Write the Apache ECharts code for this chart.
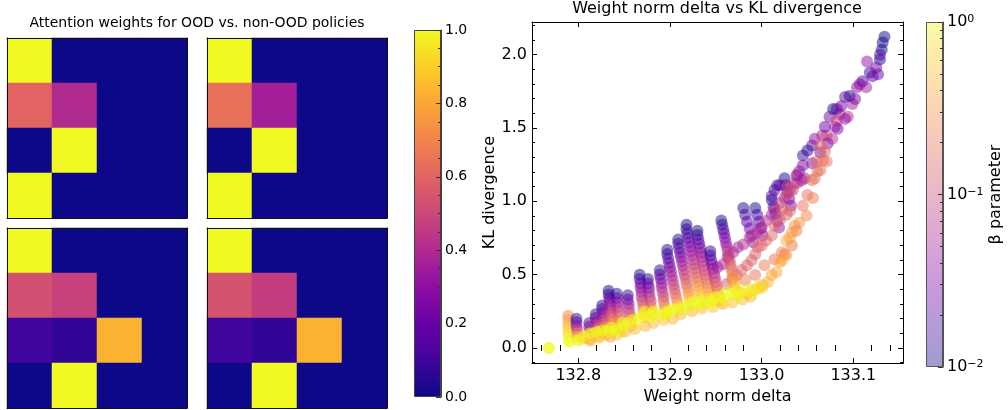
<!DOCTYPE html>
<html>
<head>
<meta charset="utf-8">
<title>attention / kl</title>
<script src="https://cdn.jsdelivr.net/npm/echarts@6/dist/echarts.min.js"></script>
<style>
    html, body { margin: 0; padding: 0; background: #fff; }
    #main { width: 1008px; height: 410px; }
</style>
</head>
<body>
<div id="main"></div>
<script>
'use strict'

// ---- attention weight matrices (rows top -> bottom) ----
var cells = ['0', '1', '2', '3'];
var attnTopLeft = [[1, 0, 0, 0], [0.6, 0.4, 0, 0], [0, 1, 0, 0], [1, 0, 0, 0]];
var attnTopRight = [[1, 0, 0, 0], [0.64, 0.36, 0, 0], [0, 1, 0, 0], [1, 0, 0, 0]];
var attnBottomLeft = [[1, 0, 0, 0], [0.53, 0.48, 0, 0], [0.1, 0.07, 0.83, 0], [0, 1, 0, 0]];
var attnBottomRight = [[1, 0, 0, 0], [0.54, 0.47, 0, 0], [0.1, 0.07, 0.83, 0], [0, 1, 0, 0]];
var attnTicks = [0, 0.2, 0.4, 0.6, 0.8, 1.0];

// ---- scatter: [weight norm delta, KL divergence, beta] ----
var bottomBand = [
    [132.768, 0.0, 1], [132.768, 0.0, 1], [132.790, 0.045, 1], [132.800, 0.05, 1], [132.806, 0.08, 0.9],
    [132.813, 0.10, 1], [132.820, 0.11, 1], [132.826, 0.12, 0.9], [132.834, 0.11, 1], [132.842, 0.12, 1],
    [132.848, 0.17, 1], [132.854, 0.17, 0.9], [132.859, 0.19, 1], [132.867, 0.21, 1], [132.872, 0.25, 0.9],
    [132.878, 0.22, 1], [132.885, 0.24, 1], [132.892, 0.22, 0.9], [132.896, 0.23, 1], [132.903, 0.26, 1],
    [132.910, 0.28, 1], [132.918, 0.29, 0.9], [132.924, 0.31, 1], [132.932, 0.31, 1], [132.939, 0.32, 0.9],
    [132.946, 0.33, 1], [132.950, 0.35, 1], [132.955, 0.35, 0.9], [132.961, 0.38, 1], [132.967, 0.37, 1],
    [132.975, 0.38, 0.9], [132.982, 0.39, 1], [132.989, 0.40, 1], [132.997, 0.42, 0.8], [133.001, 0.41, 0.7],
    [132.836, 0.14, 1], [132.850, 0.15, 1], [132.865, 0.19, 1], [132.880, 0.21, 1], [132.900, 0.25, 1],
    [132.915, 0.27, 1], [132.930, 0.29, 1], [132.945, 0.30, 1], [132.960, 0.33, 1], [132.975, 0.35, 1],
    [132.990, 0.37, 0.9]
];
var belowBand = [
    [132.806, 0.065, 0.5], [132.813, 0.05, 0.45], [132.823, 0.07, 0.5], [132.835, 0.075, 0.4], [132.842, 0.09, 0.55],
    [132.851, 0.11, 0.45], [132.862, 0.13, 0.5], [132.873, 0.15, 0.45], [132.882, 0.17, 0.5], [132.893, 0.19, 0.55],
    [132.903, 0.20, 0.45], [132.912, 0.23, 0.5], [132.924, 0.25, 0.45], [132.935, 0.27, 0.5], [132.947, 0.28, 0.55],
    [132.958, 0.30, 0.45], [132.968, 0.31, 0.5], [132.979, 0.33, 0.5], [132.988, 0.35, 0.45]
];
var sawtoothLeft = [
    [132.789, 0.22, 0.25], [132.789, 0.19, 0.35], [132.789, 0.16, 0.45], [132.789, 0.13, 0.6], [132.789, 0.10, 0.75], [132.790, 0.07, 0.9], [132.790, 0.045, 1],
    [132.798, 0.20, 0.012], [132.798, 0.175, 0.02], [132.798, 0.15, 0.04], [132.799, 0.125, 0.08], [132.799, 0.10, 0.2], [132.799, 0.075, 0.45], [132.800, 0.055, 1],
    [132.812, 0.17, 0.015], [132.812, 0.145, 0.03], [132.813, 0.12, 0.07], [132.813, 0.095, 0.2], [132.813, 0.06, 0.4], [132.815, 0.095, 1],
    [132.819, 0.23, 0.012], [132.819, 0.205, 0.02], [132.820, 0.18, 0.04], [132.820, 0.155, 0.08], [132.821, 0.13, 0.15], [132.821, 0.105, 0.35], [132.822, 0.08, 0.6], [132.823, 0.11, 1],
    [132.826, 0.29, 0.012], [132.826, 0.265, 0.02], [132.827, 0.24, 0.03], [132.827, 0.215, 0.05], [132.828, 0.19, 0.08], [132.828, 0.165, 0.13], [132.829, 0.14, 0.25], [132.830, 0.115, 0.5], [132.830, 0.09, 0.55], [132.831, 0.12, 1],
    [132.833, 0.39, 0.011], [132.833, 0.365, 0.015], [132.834, 0.34, 0.02], [132.834, 0.315, 0.03], [132.835, 0.29, 0.045], [132.835, 0.265, 0.065], [132.836, 0.24, 0.09], [132.836, 0.215, 0.13], [132.837, 0.19, 0.2], [132.838, 0.165, 0.3], [132.838, 0.14, 0.5], [132.839, 0.12, 0.8],
    [132.842, 0.37, 0.012], [132.842, 0.34, 0.02], [132.843, 0.31, 0.035], [132.843, 0.28, 0.055], [132.844, 0.25, 0.09], [132.845, 0.22, 0.15], [132.845, 0.19, 0.25], [132.846, 0.16, 0.4], [132.846, 0.13, 0.7], [132.847, 0.11, 1],
    [132.854, 0.36, 0.013], [132.854, 0.33, 0.02], [132.855, 0.30, 0.035], [132.855, 0.27, 0.06], [132.856, 0.24, 0.1], [132.857, 0.21, 0.17], [132.857, 0.18, 0.3], [132.858, 0.15, 0.55],
    [132.867, 0.50, 0.011], [132.867, 0.47, 0.015], [132.868, 0.44, 0.022], [132.868, 0.41, 0.03], [132.869, 0.38, 0.045], [132.869, 0.35, 0.065], [132.870, 0.32, 0.09], [132.871, 0.29, 0.13], [132.871, 0.26, 0.2], [132.872, 0.23, 0.35], [132.873, 0.21, 0.6], [132.873, 0.24, 1],
    [132.876, 0.47, 0.013], [132.876, 0.44, 0.02], [132.877, 0.41, 0.03], [132.877, 0.38, 0.045], [132.878, 0.35, 0.07], [132.879, 0.32, 0.1], [132.879, 0.29, 0.15], [132.880, 0.26, 0.25], [132.881, 0.23, 0.45], [132.882, 0.25, 1],
    [132.889, 0.53, 0.012], [132.889, 0.50, 0.018], [132.890, 0.47, 0.025], [132.891, 0.44, 0.035], [132.891, 0.41, 0.05], [132.892, 0.38, 0.07], [132.893, 0.35, 0.1], [132.893, 0.32, 0.15], [132.894, 0.29, 0.22], [132.895, 0.26, 0.4], [132.896, 0.235, 0.7], [132.897, 0.25, 1]
];
var sawtoothMid = [
    [132.897, 0.67, 0.011], [132.897, 0.64, 0.014], [132.898, 0.61, 0.018], [132.899, 0.58, 0.023], [132.900, 0.55, 0.03], [132.901, 0.52, 0.04], [132.902, 0.49, 0.05], [132.903, 0.46, 0.065],
    [132.904, 0.43, 0.085], [132.905, 0.40, 0.11], [132.906, 0.37, 0.15], [132.907, 0.34, 0.2], [132.908, 0.31, 0.3], [132.909, 0.28, 0.5], [132.910, 0.26, 1],
    [132.909, 0.74, 0.011], [132.909, 0.71, 0.014], [132.910, 0.68, 0.018], [132.911, 0.65, 0.023], [132.912, 0.62, 0.03], [132.913, 0.59, 0.04], [132.914, 0.56, 0.05], [132.915, 0.53, 0.065],
    [132.916, 0.50, 0.085], [132.917, 0.47, 0.11], [132.918, 0.44, 0.15], [132.919, 0.41, 0.2], [132.920, 0.38, 0.28], [132.921, 0.35, 0.4], [132.922, 0.32, 0.6], [132.923, 0.29, 1],
    [132.918, 0.84, 0.01], [132.918, 0.81, 0.013], [132.919, 0.78, 0.016], [132.920, 0.75, 0.02], [132.921, 0.72, 0.025], [132.922, 0.69, 0.032], [132.923, 0.66, 0.04], [132.924, 0.63, 0.05],
    [132.925, 0.60, 0.065], [132.926, 0.57, 0.08], [132.927, 0.54, 0.1], [132.928, 0.51, 0.13], [132.929, 0.48, 0.17], [132.930, 0.45, 0.22], [132.931, 0.42, 0.3], [132.932, 0.39, 0.4],
    [132.933, 0.36, 0.55], [132.934, 0.33, 0.8], [132.935, 0.30, 1],
    [132.930, 0.80, 0.011], [132.930, 0.77, 0.014], [132.931, 0.74, 0.018], [132.932, 0.71, 0.023], [132.933, 0.68, 0.03], [132.934, 0.65, 0.038], [132.935, 0.62, 0.048], [132.936, 0.59, 0.06],
    [132.937, 0.56, 0.075], [132.938, 0.53, 0.095], [132.939, 0.50, 0.12], [132.940, 0.47, 0.15], [132.941, 0.44, 0.2], [132.942, 0.41, 0.27], [132.943, 0.38, 0.36], [132.944, 0.35, 0.5], [132.945, 0.32, 0.75],
    [132.944, 0.66, 0.012], [132.944, 0.63, 0.016], [132.945, 0.60, 0.022], [132.946, 0.57, 0.03], [132.947, 0.54, 0.04], [132.948, 0.51, 0.055], [132.949, 0.48, 0.075], [132.950, 0.45, 0.1],
    [132.951, 0.42, 0.14], [132.952, 0.39, 0.2], [132.953, 0.36, 0.3], [132.954, 0.33, 0.5], [132.955, 0.31, 0.9],
    [132.956, 0.87, 0.011], [132.957, 0.84, 0.014], [132.958, 0.81, 0.018], [132.959, 0.78, 0.023], [132.960, 0.75, 0.03], [132.961, 0.72, 0.04], [132.962, 0.69, 0.05], [132.963, 0.66, 0.065],
    [132.964, 0.63, 0.08], [132.965, 0.60, 0.1], [132.966, 0.57, 0.13], [132.967, 0.54, 0.17], [132.968, 0.51, 0.22], [132.969, 0.48, 0.3], [132.970, 0.45, 0.4], [132.971, 0.42, 0.55],
    [132.972, 0.39, 0.75], [132.973, 0.36, 1]
];
var rightRows = [
    // streak tops
    [132.980, 0.955, 0.011], [132.982, 0.908, 0.015], [132.984, 0.861, 0.02], [132.987, 0.814, 0.026], [132.989, 0.767, 0.034], [132.991, 0.719, 0.045],
    [132.993, 0.955, 0.011], [132.995, 0.908, 0.015], [132.997, 0.861, 0.02], [132.999, 0.814, 0.027], [133.001, 0.767, 0.036],
    [133.011, 1.009, 0.011], [133.013, 0.962, 0.015], [133.015, 0.915, 0.02], [133.017, 0.868, 0.028], [133.019, 0.821, 0.038],
    [133.025, 1.158, 0.011], [133.026, 1.110, 0.014], [133.028, 1.063, 0.019], [133.030, 1.016, 0.026], [133.032, 0.969, 0.035],
    [133.011, 1.036, 0.02], [133.014, 1.077, 0.018], [133.017, 1.110, 0.015], [133.020, 1.110, 0.02],
    // magenta row
    [132.952, 0.551, 0.05], [132.958, 0.571, 0.055], [132.963, 0.618, 0.05], [132.969, 0.652, 0.06], [132.974, 0.686, 0.055],
    [132.980, 0.706, 0.06], [132.987, 0.753, 0.06], [132.995, 0.787, 0.065], [133.000, 0.821, 0.06], [133.005, 0.868, 0.065],
    [133.011, 0.908, 0.06], [133.014, 0.942, 0.065], [133.020, 0.989, 0.07], [133.025, 1.023, 0.065], [133.031, 1.070, 0.07],
    [133.036, 1.124, 0.065], [133.039, 1.178, 0.07],
    // pink row
    [132.962, 0.436, 0.13], [132.968, 0.470, 0.14], [132.973, 0.497, 0.13], [132.978, 0.531, 0.15], [132.984, 0.564, 0.14],
    [132.989, 0.598, 0.15], [132.993, 0.639, 0.14], [132.996, 0.686, 0.15], [133.000, 0.699, 0.16], [133.005, 0.733, 0.15],
    [133.011, 0.767, 0.16], [133.014, 0.834, 0.15], [133.020, 0.875, 0.16], [133.031, 0.935, 0.17], [133.027, 1.043, 0.12],
    [133.022, 0.942, 0.13], [133.027, 0.908, 0.14], [133.028, 1.104, 0.09], [133.034, 1.077, 0.1], [133.039, 1.124, 0.08],
    [133.044, 1.144, 0.05], [133.038, 1.178, 0.045],
    // salmon row
    [132.982, 0.463, 0.22], [132.993, 0.497, 0.2], [133.003, 0.564, 0.22], [133.014, 0.605, 0.2], [133.022, 0.652, 0.24],
    [133.025, 0.639, 0.2], [133.033, 0.699, 0.2], [133.038, 0.800, 0.22], [133.045, 0.969, 0.2], [133.049, 0.902, 0.25],
    [133.050, 1.043, 0.18], [133.056, 1.023, 0.22], [133.055, 1.144, 0.17], [133.058, 1.158, 0.2], [133.061, 1.205, 0.18],
    [133.064, 1.212, 0.2], [133.060, 1.272, 0.16], [133.067, 1.279, 0.17], [133.071, 1.272, 0.19], [133.069, 1.340, 0.16],
    [133.064, 1.380, 0.15],
    // orange row
    [132.976, 0.382, 0.45], [132.984, 0.369, 0.6], [132.990, 0.396, 0.4], [132.996, 0.403, 0.55], [133.001, 0.430, 0.4],
    [133.007, 0.450, 0.45], [133.011, 0.497, 0.4], [133.016, 0.517, 0.38], [133.020, 0.585, 0.4], [133.027, 0.632, 0.35],
    [133.022, 0.598, 0.38], [133.031, 0.753, 0.35], [133.027, 0.733, 0.38], [133.033, 0.787, 0.35], [133.036, 0.834, 0.32],
    [133.041, 0.854, 0.3]
];
var upperBand = [
    [133.045, 1.313, 0.015], [133.045, 1.245, 0.03], [133.041, 1.205, 0.04], [133.047, 1.158, 0.05], [133.050, 1.347, 0.012],
    [133.055, 1.380, 0.02], [133.058, 1.427, 0.04], [133.066, 1.448, 0.06], [133.071, 1.448, 0.1], [133.069, 1.508, 0.025],
    [133.074, 1.576, 0.03], [133.080, 1.508, 0.05], [133.077, 1.427, 0.07], [133.082, 1.549, 0.09], [133.085, 1.596, 0.07],
    [133.078, 1.630, 0.011], [133.082, 1.630, 0.02], [133.087, 1.650, 0.03], [133.094, 1.576, 0.06], [133.099, 1.664, 0.05],
    [133.091, 1.711, 0.025], [133.096, 1.718, 0.012], [133.104, 1.778, 0.04], [133.107, 1.798, 0.035], [133.110, 1.819, 0.02],
    [133.118, 1.879, 0.015], [133.121, 1.852, 0.02], [133.127, 1.866, 0.025], [133.115, 1.953, 0.04], [133.129, 1.967, 0.011],
    [133.131, 2.034, 0.01], [133.132, 2.082, 0.01], [133.134, 2.122, 0.01],
    [133.064, 1.333, 0.03], [133.055, 1.259, 0.035], [133.072, 1.394, 0.035], [133.083, 1.495, 0.03], [133.091, 1.562, 0.04],
    [133.102, 1.697, 0.03], [133.114, 1.778, 0.05], [133.125, 1.913, 0.03], [133.129, 2.000, 0.02]
];

// ---- axis ticks ----
var xMajorTicks = [132.8, 132.9, 133.0, 133.1];
var xMinorTicks = [132.76, 132.78, 132.82, 132.84, 132.86, 132.88, 132.92, 132.94, 132.96, 132.98,
    133.02, 133.04, 133.06, 133.08, 133.12, 133.14];
var yMajorTicks = [0, 0.5, 1.0, 1.5, 2.0];
var yMinorTicks = [-0.1, 0.1, 0.2, 0.3, 0.4, 0.6, 0.7, 0.8, 0.9, 1.1, 1.2, 1.3, 1.4, 1.6, 1.7, 1.8, 1.9, 2.1, 2.2];
var betaTicks = [0.01, 0.1, 1];
var betaMinorTicks = [0.02, 0.03, 0.04, 0.05, 0.06, 0.07, 0.08, 0.09, 0.2, 0.3, 0.4, 0.5, 0.6, 0.7, 0.8, 0.9];

var plasma = ['#0d0887', '#41049d', '#6a00a8', '#8f0da4', '#b12a90', '#cc4778',
    '#e16462', '#f2844b', '#fca636', '#fcce25', '#f0f921'];
var font = 'DejaVu Sans';
var barAlpha = 0.4;     // colorbar shows the plain alpha
var pointAlpha = 0.5;

function rgba(hex, a) {
    var n = parseInt(hex.slice(1), 16);
    return 'rgba(' + (n >> 16) + ',' + ((n >> 8) & 255) + ',' + (n & 255) + ',' + a + ')';
}
// vertical gradient, top = high end of the colormap
function barGradient(alpha) {
    return {
        type: 'linear', x: 0, y: 0, x2: 0, y2: 1,
        colorStops: plasma.map(function (c, i) {
            return {offset: 1 - i / (plasma.length - 1), color: rgba(c, alpha)};
        })
    };
}
function toHeat(m) {
    var out = [];
    for (var r = 0; r < m.length; r++) {
        for (var c = 0; c < m[r].length; c++) {
            out.push([c, r, m[r][c]]);
        }
    }
    return out;
}
function supLabel(v) {
    var e = Math.round(v);
    return '{b|10}{s|' + (e < 0 ? '\u2212' + (-e) : e) + '}';
}

var frameLine = {show: true, onZero: false, lineStyle: {color: '#111', width: 1}};
var off = {show: false};

var grids = [
    {left: 7, top: 38, width: 180, height: 180},
    {left: 207, top: 38, width: 180, height: 180},
    {left: 7, top: 228, width: 180, height: 180},
    {left: 207, top: 228, width: 180, height: 180},
    {left: 414, top: 30, width: 27, height: 367},      // attention colorbar
    {left: 532, top: 22, width: 371, height: 345},     // scatter
    {left: 926, top: 22, width: 17, height: 345}       // beta colorbar
];

var xAxes = [], yAxes = [], series = [];
var mats = [attnTopLeft, attnTopRight, attnBottomLeft, attnBottomRight];
mats.forEach(function (m, i) {
    ['bottom', 'top'].forEach(function (pos) {
        xAxes.push({type: 'category', gridIndex: i, data: cells, position: pos, z: 5,
            axisLine: frameLine, axisTick: off, axisLabel: off, splitLine: off});
    });
    ['left', 'right'].forEach(function (pos) {
        yAxes.push({type: 'category', gridIndex: i, data: cells, inverse: true, position: pos, z: 5,
            axisLine: frameLine, axisTick: off, axisLabel: off, splitLine: off});
    });
    series.push({type: 'heatmap', xAxisIndex: 2 * i, yAxisIndex: 2 * i, data: toHeat(m), silent: true});
});

// attention colorbar (axis index 8)
xAxes.push({type: 'category', gridIndex: 4, data: ['cb'], show: false});
yAxes.push({
    type: 'value', gridIndex: 4, min: 0, max: 1, position: 'right', z: 5,
    axisLine: {show: true, lineStyle: {color: '#444'}},
    axisTick: {show: true, inside: true, length: 5, customValues: attnTicks, lineStyle: {color: '#333'}},
    minorTick: {show: true, splitNumber: 4, length: 3, lineStyle: {color: '#333'}},
    axisLabel: {customValues: attnTicks, fontSize: 14, margin: 4, color: '#000',
        formatter: function (v) { return v.toFixed(1); }},
    splitLine: off, minorSplitLine: off
});
series.push({type: 'bar', xAxisIndex: 8, yAxisIndex: 8, data: [1], barWidth: '100%', silent: true,
    itemStyle: {color: barGradient(1), borderColor: '#444', borderWidth: 1}});

// scatter frame (axis indices 9..12)
var xMin = 132.7495, xMax = 133.1542, yMin = -0.103, yMax = 2.2225;
[['bottom', true], ['bottom', false], ['top', true], ['top', false]].forEach(function (a) {
    var major = a[1];
    xAxes.push({
        type: 'value', gridIndex: 5, min: xMin, max: xMax, position: a[0], z: 5,
        axisLine: major ? {show: true, onZero: false, lineStyle: {color: '#000', width: 1}} : off,
        axisTick: {show: true, inside: true, length: major ? 5 : 3,
            customValues: major ? xMajorTicks : xMinorTicks, lineStyle: {color: '#000'}},
        axisLabel: (major && a[0] === 'bottom') ? {customValues: xMajorTicks, fontSize: 16, margin: 5, color: '#000',
            formatter: function (v) { return v.toFixed(1); }} : off,
        splitLine: off,
        name: (major && a[0] === 'bottom') ? 'Weight norm delta' : '',
        nameLocation: 'middle', nameGap: 22, nameTextStyle: {fontSize: 16, color: '#000'}
    });
});
[['left', true], ['left', false], ['right', true], ['right', false]].forEach(function (a) {
    var major = a[1];
    yAxes.push({
        type: 'value', gridIndex: 5, min: yMin, max: yMax, position: a[0], z: 5,
        axisLine: major ? {show: true, onZero: false, lineStyle: {color: '#000', width: 1}} : off,
        axisTick: {show: true, inside: true, length: major ? 5 : 3,
            customValues: major ? yMajorTicks : yMinorTicks, lineStyle: {color: '#000'}},
        axisLabel: (major && a[0] === 'left') ? {customValues: yMajorTicks, fontSize: 16, margin: 5, color: '#000',
            formatter: function (v) { return v.toFixed(1); }} : off,
        splitLine: off,
        name: (major && a[0] === 'left') ? 'KL divergence' : '',
        nameLocation: 'middle', nameGap: 34, nameTextStyle: {fontSize: 16, color: '#000'}
    });
});

var scatterData = [].concat(upperBand, rightRows, sawtoothMid, sawtoothLeft, belowBand, bottomBand).map(function (p) {
    return [p[0], p[1], p[2], Math.log10(p[2])];
});
series.push({type: 'scatter', xAxisIndex: 9, yAxisIndex: 9, data: scatterData, symbolSize: 12,
    itemStyle: {opacity: pointAlpha}, silent: true});

// beta colorbar (x 13, y 13 = labels, 14 = minor ticks, 15 = bar)
xAxes.push({type: 'category', gridIndex: 6, data: ['cb'], show: false});
yAxes.push({
    type: 'value', gridIndex: 6, min: -2, max: 0, position: 'right', z: 5,
    axisLine: {show: true, lineStyle: {color: '#555'}},
    axisTick: {show: true, inside: true, length: 5, customValues: betaTicks.map(Math.log10), lineStyle: {color: '#333'}},
    axisLabel: {customValues: betaTicks.map(Math.log10), margin: 4, formatter: supLabel,
        rich: {
            b: {fontSize: 16, fontFamily: font, color: '#000'},
            s: {fontSize: 11, fontFamily: font, color: '#000', verticalAlign: 'top', lineHeight: 11}
        }},
    splitLine: off,
    name: '\u03b2 parameter', nameLocation: 'middle', nameRotate: 90, nameGap: 42,
    nameTextStyle: {fontSize: 16, color: '#000'}
});
yAxes.push({
    type: 'value', gridIndex: 6, min: -2, max: 0, position: 'right', z: 5,
    axisLine: off, axisLabel: off, splitLine: off,
    axisTick: {show: true, inside: true, length: 3, customValues: betaMinorTicks.map(Math.log10), lineStyle: {color: '#333'}}
});
yAxes.push({type: 'value', gridIndex: 6, min: 0, max: 1, show: false});
series.push({type: 'bar', xAxisIndex: 13, yAxisIndex: 15, data: [1], barWidth: '100%', silent: true,
    itemStyle: {color: barGradient(barAlpha), borderColor: '#555', borderWidth: 1}});

var option = {
    animation: false,
    backgroundColor: '#fff',
    textStyle: {fontFamily: font, color: '#000'},
    title: [
        {text: 'Attention weights for OOD vs. non-OOD policies', left: 197, top: 16, padding: 0, textAlign: 'center',
            textStyle: {fontSize: 14, fontWeight: 'normal', color: '#000', fontFamily: font}},
        {text: 'Weight norm delta vs KL divergence', left: 717, top: 1, padding: 0, textAlign: 'center',
            textStyle: {fontSize: 16, fontWeight: 'normal', color: '#000', fontFamily: font}}
    ],
    grid: grids,
    xAxis: xAxes,
    yAxis: yAxes,
    visualMap: [
        {type: 'continuous', show: false, min: 0, max: 1, dimension: 2, seriesIndex: [0, 1, 2, 3],
            inRange: {color: plasma}},
        {type: 'continuous', show: false, min: -2, max: 0, dimension: 3, seriesIndex: 5,
            inRange: {color: plasma}}
    ],
    series: series
};

var myChart = echarts.init(document.getElementById('main'));
myChart.setOption(option);
</script>
</body>
</html>
